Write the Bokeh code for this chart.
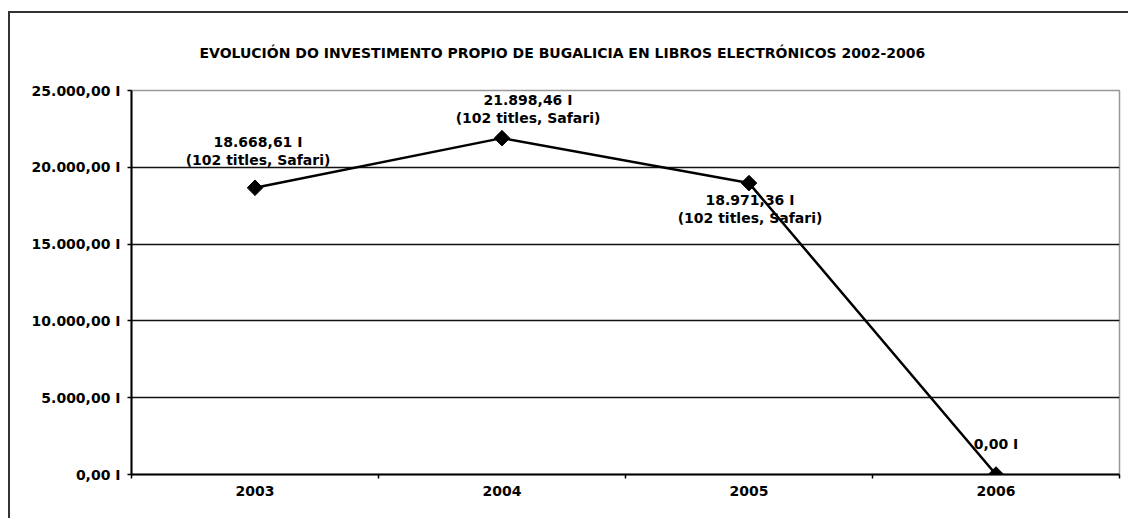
from bokeh.plotting import figure
from bokeh.models import Range1d, FixedTicker, ColumnDataSource
from bokeh.core.properties import value
from bokeh.embed import file_html
from bokeh.resources import INLINE
import numpy as np

# ---- data ----
title_text = "EVOLUCIÓN DO INVESTIMENTO PROPIO DE BUGALICIA EN LIBROS ELECTRÓNICOS 2002-2006"
years = ["2003", "2004", "2005", "2006"]
investment = [18668.61, 21898.46, 18971.36, 0.00]
notes = ["(102 titles, Safari)", "(102 titles, Safari)", "(102 titles, Safari)", ""]
y_ticks = [0, 5000, 10000, 15000, 20000, 25000]

# label placement (pixels)
label_dx = [3, 26, 1, 0]
label_dy = [-37, -29, 26, -31]

def fmt(v):
    s = f"{v:,.2f}".replace(",", "X").replace(".", ",").replace("X", ".")
    return s + " I"

FONT = "DejaVu Sans"

xs = [i + 0.5 for i in range(len(years))]
texts = [fmt(v) + ("\n" + n if n else "") for v, n in zip(investment, notes)]
src = ColumnDataSource(dict(x=xs, y=investment, text=texts, dx=label_dx, dy=label_dy))

p = figure(frame_width=988, frame_height=384,
           x_range=Range1d(0, len(years)), y_range=Range1d(0, 25000),
           output_backend="svg", toolbar_location=None,
           min_border_left=121, min_border_right=9, min_border_top=77, min_border_bottom=44)
p.styles = {"border-top": "2px solid #333", "border-left": "2px solid #333",
            "margin-left": "8px", "margin-top": "11px"}
p.background_fill_color = "white"
p.border_fill_color = "white"
p.outline_line_color = "#999999"
p.outline_line_width = 1.5

p.title.text = title_text
p.title.align = "left"
p.title.vertical_align = "top"
p.title.offset = 68
p.title.standoff = 55
p.title.text_font = FONT
p.title.text_font_style = "bold"
p.title.text_font_size = "14px"
p.title.text_color = "black"

# x axis: labels at centres, tick marks at category boundaries
p.xaxis.ticker = FixedTicker(ticks=xs, minor_ticks=list(range(len(years) + 1)))
p.xaxis.major_label_overrides = {x: y for x, y in zip(xs, years)}
p.xaxis.major_tick_in = 0
p.xaxis.major_tick_out = 0
p.xaxis.minor_tick_in = 0
p.xaxis.minor_tick_out = 4
p.xaxis.minor_tick_line_color = "black"
p.xaxis.minor_tick_line_width = 1.5
p.xaxis.axis_line_color = "black"
p.xaxis.axis_line_width = 2
p.xaxis.major_label_standoff = 7
p.xaxis.major_label_text_font = FONT
p.xaxis.major_label_text_font_style = "bold"
p.xaxis.major_label_text_font_size = "14px"
p.xaxis.major_label_text_color = "black"

p.yaxis.ticker = FixedTicker(ticks=y_ticks, minor_ticks=[])
p.yaxis.major_label_overrides = {t: fmt(t) for t in y_ticks}
p.yaxis.major_tick_in = 0
p.yaxis.major_tick_out = 4
p.yaxis.major_tick_line_width = 1.5
p.yaxis.axis_line_color = "black"
p.yaxis.axis_line_width = 2
p.yaxis.major_label_standoff = 7
p.yaxis.major_label_text_font = FONT
p.yaxis.major_label_text_font_style = "bold"
p.yaxis.major_label_text_font_size = "14px"
p.yaxis.major_label_text_color = "black"

p.xgrid.visible = False
p.ygrid.ticker = FixedTicker(ticks=y_ticks[1:-1], minor_ticks=[])
p.ygrid.grid_line_color = "#111111"
p.ygrid.grid_line_width = 1.5

p.line("x", "y", source=src, line_color="black", line_width=2.5)
p.scatter("x", "y", source=src, marker="square", size=11, angle=np.pi / 4,
          fill_color="black", line_color="black")
p.text("x", "y", text="text", source=src, x_offset="dx", y_offset="dy",
       text_align="center", text_baseline="middle", text_line_height=1.1,
       text_font=value(FONT), text_font_style="bold", text_font_size="14px",
       text_color="black")

open("out.html", "w").write(file_html(p, INLINE))
